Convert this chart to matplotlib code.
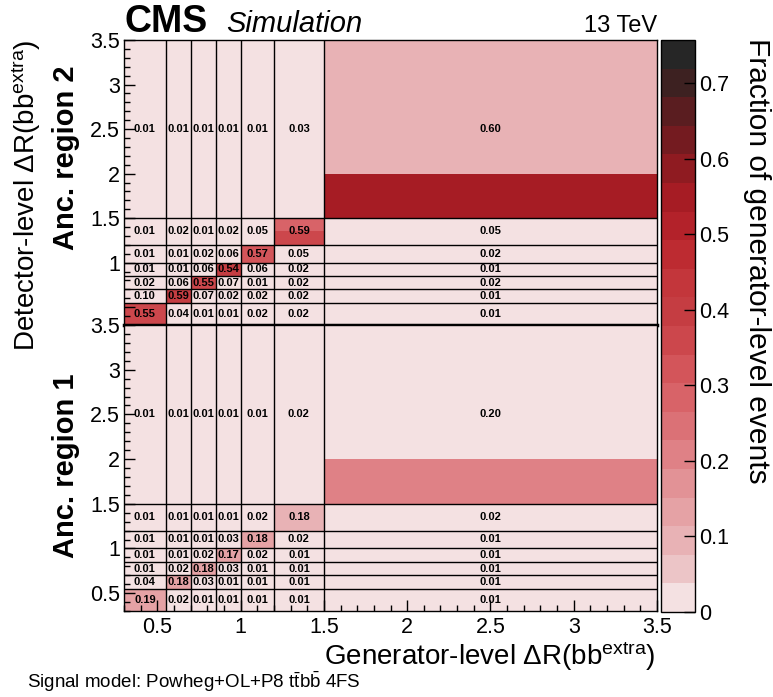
import numpy as np
import matplotlib
matplotlib.use("Agg")
import matplotlib.pyplot as plt
from matplotlib.colors import ListedColormap, BoundaryNorm
from matplotlib.ticker import MultipleLocator

plt.rcParams['font.family'] = ['Liberation Sans', 'DejaVu Sans']
plt.rcParams['mathtext.fontset'] = 'custom'
plt.rcParams['mathtext.rm'] = 'Liberation Sans'
plt.rcParams['mathtext.it'] = 'Liberation Sans:italic'
plt.rcParams['mathtext.bf'] = 'Liberation Sans:bold'

# bin edges (generator level on x, detector level on y)
x_edges = [0.3, 0.55, 0.7, 0.85, 1.0, 1.2, 1.5, 3.5]
y_edges = [0.3, 0.55, 0.7, 0.85, 1.0, 1.2, 1.5, 3.5]

# printed fractions, rows from low to high detector-level dR
region2_text = [
    [0.55, 0.04, 0.01, 0.01, 0.02, 0.02, 0.01],
    [0.10, 0.59, 0.07, 0.02, 0.02, 0.02, 0.01],
    [0.02, 0.06, 0.55, 0.07, 0.01, 0.02, 0.02],
    [0.01, 0.01, 0.06, 0.54, 0.06, 0.02, 0.01],
    [0.01, 0.01, 0.02, 0.06, 0.57, 0.05, 0.02],
    [0.01, 0.02, 0.01, 0.02, 0.05, 0.59, 0.05],
    [0.01, 0.01, 0.01, 0.01, 0.01, 0.03, 0.60],
]
region1_text = [
    [0.19, 0.02, 0.01, 0.01, 0.01, 0.01, 0.01],
    [0.04, 0.18, 0.03, 0.01, 0.01, 0.01, 0.01],
    [0.01, 0.02, 0.18, 0.03, 0.01, 0.01, 0.01],
    [0.01, 0.01, 0.02, 0.17, 0.02, 0.01, 0.01],
    [0.01, 0.01, 0.01, 0.03, 0.18, 0.02, 0.01],
    [0.01, 0.01, 0.01, 0.01, 0.02, 0.18, 0.02],
    [0.01, 0.01, 0.01, 0.01, 0.01, 0.02, 0.20],
]

# colour fill as it appears (finer y binning than the printed grid)
fill_y_edges = [0.3, 0.55, 0.7, 0.85, 1.0, 1.2, 1.35, 1.5, 2.0, 3.5]
region2_fill = [
    [0.35, 0.02, 0.02, 0.02, 0.02, 0.02, 0.02],
    [0.02, 0.39, 0.02, 0.02, 0.02, 0.02, 0.02],
    [0.02, 0.02, 0.36, 0.02, 0.02, 0.02, 0.02],
    [0.02, 0.02, 0.02, 0.38, 0.02, 0.02, 0.02],
    [0.02, 0.02, 0.02, 0.02, 0.32, 0.02, 0.02],
    [0.02, 0.02, 0.02, 0.02, 0.02, 0.35, 0.02],
    [0.02, 0.02, 0.02, 0.02, 0.02, 0.28, 0.02],
    [0.02, 0.02, 0.02, 0.02, 0.02, 0.02, 0.55],
    [0.02, 0.02, 0.02, 0.02, 0.02, 0.02, 0.10],
]
region1_fill = [
    [0.13, 0.02, 0.02, 0.02, 0.02, 0.02, 0.02],
    [0.02, 0.12, 0.02, 0.02, 0.02, 0.02, 0.02],
    [0.02, 0.02, 0.14, 0.02, 0.02, 0.02, 0.02],
    [0.02, 0.02, 0.02, 0.12, 0.02, 0.02, 0.02],
    [0.02, 0.02, 0.02, 0.02, 0.14, 0.02, 0.02],
    [0.02, 0.02, 0.02, 0.02, 0.02, 0.10, 0.02],
    [0.02, 0.02, 0.02, 0.02, 0.02, 0.10, 0.02],
    [0.02, 0.02, 0.02, 0.02, 0.02, 0.02, 0.19],
    [0.02, 0.02, 0.02, 0.02, 0.02, 0.02, 0.02],
]

zmax = 0.757
palette = ['#f4e1e2', '#ecc5c7', '#e8b2b5', '#e5a2a5', '#e29296',
           '#df8186', '#db7176', '#d86368', '#d3555a', '#cc474c',
           '#c53d42', '#c3363b', '#bd2b31', '#b3222a', '#a61c24',
           '#8f1b21', '#741b20', '#5a1d20', '#3d2121', '#262626']
cmap = ListedColormap(palette)
norm = BoundaryNorm(np.linspace(0, zmax, len(palette) + 1), cmap.N)

W, H = 773, 697
fig = plt.figure(figsize=(W / 100, H / 100), dpi=100)


def px(x0, y0, x1, y1):
    return [x0 / W, 1 - y1 / H, (x1 - x0) / W, (y1 - y0) / H]


ax_top = fig.add_axes(px(124, 40, 657, 325))
ax_bot = fig.add_axes(px(124, 325, 657, 611))
cax = fig.add_axes(px(661, 40, 695, 612))

tick_fs = 15.5
mesh = None
for ax, fill, text in [(ax_top, region2_fill, region2_text),
                       (ax_bot, region1_fill, region1_text)]:
    mesh = ax.pcolormesh(x_edges, fill_y_edges, np.array(fill),
                         cmap=cmap, norm=norm)
    for e in x_edges[1:-1]:
        ax.axvline(e, color='black', lw=1.0, zorder=3)
    for e in y_edges[1:-1]:
        ax.axhline(e, color='black', lw=1.0, zorder=3)
    xc = 0.5 * (np.array(x_edges[:-1]) + np.array(x_edges[1:]))
    yc = 0.5 * (np.array(y_edges[:-1]) + np.array(y_edges[1:]))
    for i, row in enumerate(text):
        for j, v in enumerate(row):
            ax.text(xc[j], yc[i], f"{v:.2f}", ha='center', va='center',
                    fontsize=8, fontweight='bold', zorder=4)
    ax.set_xlim(0.3, 3.5)
    ax.set_ylim(0.3, 3.5)
    ax.set_axisbelow(False)
    ax.yaxis.set_major_locator(MultipleLocator(0.5))
    ax.yaxis.set_minor_locator(MultipleLocator(0.1))
    ax.xaxis.set_major_locator(MultipleLocator(0.5))
    ax.xaxis.set_minor_locator(MultipleLocator(0.1))
    ax.tick_params(which='both', direction='in', top=False, right=False,
                   labelsize=tick_fs, pad=3)
    ax.tick_params(which='major', length=8, width=1)
    ax.tick_params(which='minor', length=4, width=1)
    for s in ax.spines.values():
        s.set_linewidth(1.0)

ax_top.tick_params(which='both', bottom=False, labelbottom=False)
ax_top.set_yticks([0.5, 1.0, 1.5, 2.0, 2.5, 3.0, 3.5])
ax_top.set_yticklabels(['', '1', '1.5', '2', '2.5', '3', '3.5'])
ax_top.spines['bottom'].set_linewidth(2.5)
ax_bot.set_yticks([0.5, 1.0, 1.5, 2.0, 2.5, 3.0, 3.5])
ax_bot.set_yticklabels(['0.5', '1', '1.5', '2', '2.5', '3', '3.5'])
ax_bot.set_xticks([0.5, 1.0, 1.5, 2.0, 2.5, 3.0, 3.5])
ax_bot.set_xticklabels(['0.5', '1', '1.5', '2', '2.5', '3', '3.5'])
ax_bot.tick_params(axis='x', pad=4)

cb = fig.colorbar(mesh, cax=cax, ticks=np.arange(0, 0.75, 0.1))
cb.ax.set_yticklabels(['0', '0.1', '0.2', '0.3', '0.4', '0.5', '0.6', '0.7'])
cb.ax.tick_params(direction='in', length=8, width=1, labelsize=tick_fs,
                  pad=3, right=True)
cb.outline.set_linewidth(1.0)
cb.ax.minorticks_off()

fig.text(124 / W, 1 - 32 / H, 'CMS', fontsize=27, fontweight='bold',
         ha='left', va='baseline')
fig.text(226 / W, 1 - 32 / H, 'Simulation', fontsize=21, style='italic',
         ha='left', va='baseline')
fig.text(657 / W, 1 - 32 / H, '13 TeV', fontsize=17, ha='right',
         va='baseline')

fig.text(655 / W, 1 - 665 / H, r'Generator-level ΔR(bb$^{\mathrm{extra}}$)',
         fontsize=20, ha='right', va='baseline')
fig.text(26 / W, 1 - 40 / H, r'Detector-level ΔR(bb$^{\mathrm{extra}}$)',
         fontsize=20, rotation=90, ha='center', va='top')
fig.text(757 / W, 1 - 38 / H, 'Fraction of generator-level events',
         fontsize=21.5, rotation=270, ha='center', va='top')

fig.text(66 / W, 1 - 158 / H, 'Anc. region 2', fontsize=21,
         fontweight='bold', rotation=90, ha='center', va='center')
fig.text(66 / W, 1 - 466 / H, 'Anc. region 1', fontsize=21,
         fontweight='bold', rotation=90, ha='center', va='center')

fig.text(27 / W, 1 - 688 / H,
         r'Signal model: Powheg+OL+P8 $\mathrm{t\bar{t}b\bar{b}}$ 4FS',
         fontsize=13.5, ha='left', va='baseline')

fig.savefig('out.png', dpi=100)
